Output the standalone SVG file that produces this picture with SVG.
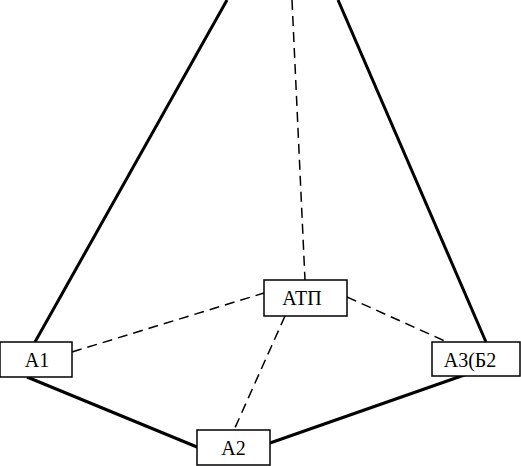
<svg xmlns="http://www.w3.org/2000/svg" width="521" height="466" viewBox="0 0 521 466">
<style>
.box{fill:#fff;stroke:#000;stroke-width:1.5}
.t{font-family:"Liberation Serif",serif;font-size:20px;text-anchor:middle;fill:#000}
.s{stroke:#000;stroke-width:3;fill:none}
.d{stroke:#000;stroke-width:1.5;fill:none;stroke-dasharray:10,6}
</style>
<rect width="521" height="466" fill="#fff"/>
<g id="connectors">
<line class="s" x1="227" y1="0" x2="35" y2="342"/>
<line class="s" x1="338" y1="0" x2="486" y2="342"/>
<line class="d" x1="292" y1="0" x2="305" y2="280"/>
<line class="s" x1="27" y1="377" x2="197" y2="447"/>
<line class="s" x1="270" y1="443" x2="470" y2="373"/>
<line class="d" x1="72" y1="352" x2="264" y2="293"/>
<line class="d" x1="347" y1="297" x2="447" y2="342"/>
<line class="d" x1="285" y1="316" x2="234" y2="430"/>
</g>
<g id="A1"><rect class="box" x="0" y="342" width="72" height="35"/><text class="t" x="37" y="367">А1</text></g>
<g id="ATP"><rect class="box" x="264" y="280" width="83" height="36"/><text class="t" x="302" y="305">АТП</text></g>
<g id="A3"><rect class="box" x="432" y="342" width="88" height="34"/><text class="t" x="470" y="367">А3(Б2</text></g>
<g id="A2"><rect class="box" x="197" y="430" width="73" height="35"/><text class="t" x="233.5" y="455">А2</text></g>
</svg>
